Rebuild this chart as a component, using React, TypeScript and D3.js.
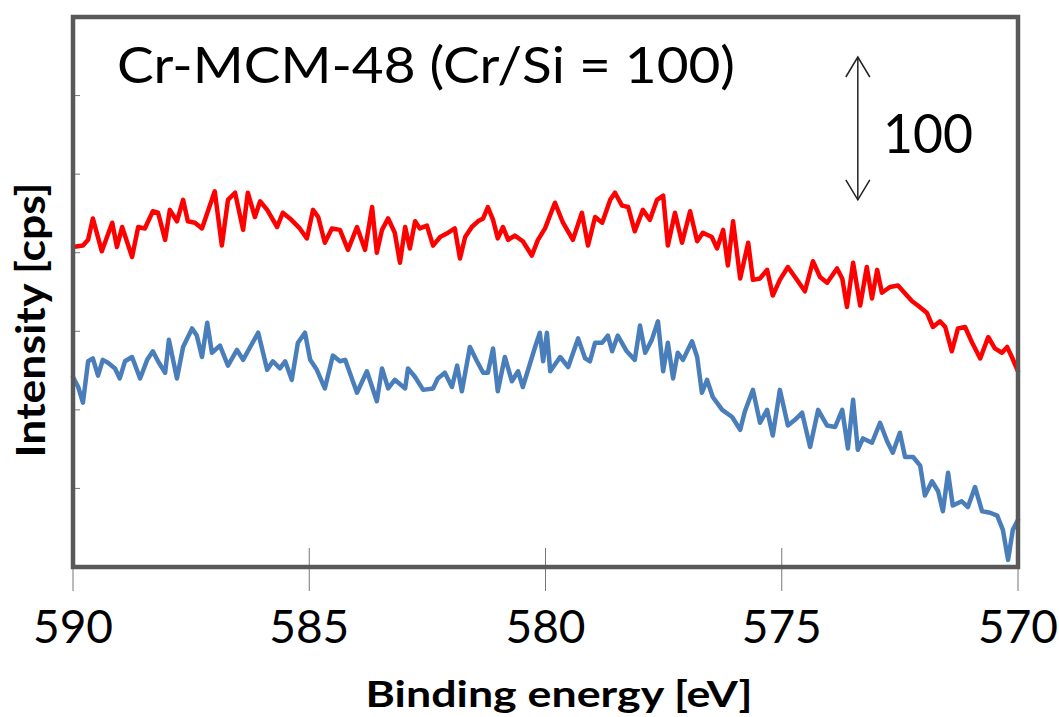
import React from "react";
import * as d3 from "d3";

// Binding energies [eV] and intensities [cps]
const redEnergy = [
  590.0, 589.79, 589.68, 589.58, 589.39, 589.17, 589.07, 588.96, 588.75, 588.62,
  588.48, 588.31, 588.2, 588.05, 587.95, 587.8, 587.67, 587.57, 587.42, 587.27,
  587.0, 586.85, 586.72, 586.57, 586.4, 586.3, 586.15, 586.04, 585.89, 585.68,
  585.56, 585.41, 585.2, 585.05,
  584.92, 584.81, 584.67, 584.52, 584.35, 584.18, 583.99, 583.82, 583.67, 583.57,
  583.46, 583.33, 583.19, 583.08, 582.97, 582.87, 582.76, 582.66, 582.51, 582.38,
  582.23, 582.06, 581.92, 581.81, 581.7, 581.56, 581.43, 581.32, 581.22, 581.11,
  581.01, 580.9, 580.79, 580.65, 580.48, 580.29, 580.16, 580.01,
  579.8, 579.63, 579.42, 579.23, 579.1, 578.95, 578.8, 578.63, 578.53, 578.38,
  578.25, 578.11, 577.94, 577.79, 577.64, 577.51, 577.41, 577.26, 577.11, 576.94,
  576.79, 576.67, 576.48, 576.37, 576.24, 576.14, 576.03, 575.88, 575.71, 575.61,
  575.46, 575.31, 575.19, 575.04,
  574.87, 574.72, 574.51, 574.34, 574.19, 574.04, 573.83, 573.72, 573.62, 573.49,
  573.34, 573.2, 573.09, 572.98, 572.88, 572.71, 572.54, 572.35, 572.24, 572.12,
  571.93, 571.8, 571.65, 571.54, 571.4, 571.27, 571.12, 570.97, 570.8, 570.63,
  570.49, 570.34, 570.23, 570.13, 570.0,
];
const redIntensity = [
  224, 225, 229, 244, 221, 241, 224, 238, 217, 238,
  237, 249, 248, 229, 250, 242, 257, 242, 241, 237,
  263, 225, 257, 262, 236, 262, 245, 256, 250, 238,
  248, 244, 237, 230,
  250, 245, 227, 237, 236, 222, 238, 222, 252, 220,
  236, 244, 234, 213, 238, 223, 242, 237, 239, 225,
  231, 234, 237, 216, 231, 238, 242, 244, 252, 243,
  230, 238, 229, 232, 228, 218, 229, 237,
  255, 241, 229, 248, 225, 245, 241, 257, 262, 253,
  252, 235, 250, 243, 257, 260, 225, 248, 227, 249,
  228, 234, 231, 223, 236, 211, 242, 202, 227, 201,
  202, 208, 190, 201,
  210, 203, 193, 214, 203, 199, 209, 202, 182, 213,
  183, 210, 188, 208, 192, 196, 197, 190, 186, 183,
  178, 168, 172, 168, 151, 167, 168, 157, 146, 161,
  153, 150, 154, 147, 137,
];

const blueEnergy = [
  590.0, 589.89, 589.79, 589.68, 589.58, 589.47, 589.37, 589.26, 589.11, 589.01,
  588.9, 588.75, 588.58, 588.43, 588.31, 588.2, 588.05, 587.97, 587.8, 587.67,
  587.48, 587.38, 587.27, 587.16, 587.06, 586.89, 586.72, 586.53, 586.4, 586.25,
  586.08, 585.89, 585.77, 585.62, 585.51, 585.37, 585.24, 585.09, 584.98, 584.84,
  584.67, 584.5, 584.35, 584.24, 583.99, 583.78, 583.57, 583.46, 583.33, 583.19,
  582.97, 582.91, 582.76, 582.59, 582.38, 582.28, 582.13, 581.98, 581.87, 581.77,
  581.6, 581.45, 581.32, 581.22, 581.11, 581.01, 580.86, 580.71, 580.58, 580.48,
  580.22, 580.12, 580.05, 579.97, 579.9, 579.69, 579.52, 579.31, 579.16, 579.06,
  578.95, 578.8, 578.68, 578.59, 578.47, 578.28, 578.11, 578.0, 577.89, 577.75,
  577.62, 577.51, 577.41, 577.3, 577.2, 577.09, 576.9, 576.79, 576.69, 576.58,
  576.46, 576.26, 576.05, 575.88, 575.78, 575.61, 575.46, 575.31, 575.19, 575.04,
  574.87, 574.72, 574.57, 574.4, 574.23, 574.04, 573.87, 573.72, 573.6, 573.49,
  573.39, 573.28, 573.09, 572.92, 572.77, 572.65, 572.5, 572.39, 572.22, 572.07,
  571.97, 571.82, 571.69, 571.59, 571.48, 571.38, 571.19, 571.06, 570.91, 570.76,
  570.59, 570.44, 570.32, 570.21, 570.11, 570.0,
];
const blueIntensity = [
  133, 126, 115, 144, 146, 134, 145, 143, 139, 132,
  144, 147, 132, 145, 151, 144, 136, 159, 132, 154,
  167, 162, 147, 171, 150, 155, 141, 152, 145, 154,
  164, 138, 144, 139, 144, 131, 157, 164, 145, 138,
  125, 148, 144, 145, 122, 137, 116, 139, 125, 131,
  125, 139, 133, 124, 125, 132, 136, 126, 141, 123,
  154, 144, 136, 136, 153, 123, 147, 130, 137, 126,
  154, 164, 144, 164, 137, 147, 140, 160, 146, 144,
  157, 157, 162, 151, 162, 151, 145, 169, 150, 159,
  172, 137, 157, 132, 150, 145, 158, 147, 122, 131,
  119, 110, 105, 96, 109, 124, 101, 110, 92, 124,
  99, 103, 108, 84, 110, 99, 98, 110, 83, 117,
  82, 90, 87, 101, 88, 80, 94, 77, 77, 71,
  50, 60, 53, 39, 66, 43, 46, 42, 56, 39,
  38, 36, 26, 5, 26, 33,
];

const xTicks = [590, 585, 580, 575, 570];
const yTicks = [0, 55, 110, 165, 220, 275, 330, 385];
const titleText = "Cr-MCM-48 (Cr/Si = 100)";
const xTitle = "Binding energy [eV]";
const yTitle = "Intensity [cps]";
const scaleBarValue = 100;
const scaleBarEnergy = 573.39;
const scaleBarFrom = 257;

const W = 1059;
const H = 717;
const left = 73;
const right = 1018;
const top = 17;
const bottom = 567;

export default function App() {
  const x = d3.scaleLinear().domain([590, 570]).range([left, right]);
  const y = d3.scaleLinear().domain([0, 385]).range([bottom, top]);

  const mk = (es: number[], vs: number[]) =>
    d3
      .line<[number, number]>()
      .x((d) => x(d[0]))
      .y((d) => y(d[1]))(es.map((e, i) => [e, vs[i]] as [number, number])) || "";

  const redPath = mk(redEnergy, redIntensity);
  const bluePath = mk(blueEnergy, blueIntensity);

  const ax = x(scaleBarEnergy);
  const ay1 = y(scaleBarFrom + scaleBarValue);
  const ay2 = y(scaleBarFrom);
  const hw = 12;
  const hl = 20;

  const font = "Lato, 'Open Sans', sans-serif";
  const frameColor = "#595959";

  return (
    <svg
      width={W}
      height={H}
      style={{ position: "absolute", left: 0, top: 0, background: "#fff" }}
      fontFamily={font}
    >
      <rect x={0} y={0} width={W} height={H} fill="#fff" />
      {yTicks.map((t) => (
        <line key={"yt" + t} x1={left} x2={left + 7} y1={y(t)} y2={y(t)} stroke="#777" strokeWidth={1} />
      ))}
      {xTicks.map((t) => (
        <line key={"xt" + t} x1={x(t)} x2={x(t)} y1={bottom - 19} y2={bottom + 24} stroke="#777" strokeWidth={1} />
      ))}
      <path d={bluePath} fill="none" stroke="#4A7EBB" strokeWidth={4.5} strokeLinejoin="round" strokeLinecap="round" />
      <path d={redPath} fill="none" stroke="#FF0000" strokeWidth={4.5} strokeLinejoin="round" strokeLinecap="round" />
      <rect x={left} y={top} width={right - left} height={bottom - top} fill="none" stroke={frameColor} strokeWidth={4.5} />
      {xTicks.map((t) => (
        <text key={"xl" + t} x={x(t)} y={643} textAnchor="middle" fontSize={46} fill="#000">
          {t}
        </text>
      ))}
      <text x={559} y={707} textAnchor="middle" fontSize={36} fontWeight="bold" textLength={387} lengthAdjust="spacingAndGlyphs">
        {xTitle}
      </text>
      <text
        transform="translate(45,320) rotate(-90)"
        textAnchor="middle"
        fontSize={40}
        fontWeight="bold"
        textLength={275}
        lengthAdjust="spacingAndGlyphs"
      >
        {yTitle}
      </text>
      <text x={117} y={83} fontSize={50} textLength={618} lengthAdjust="spacingAndGlyphs">
        {titleText}
      </text>
      <g stroke="#222" strokeWidth={1.5} fill="none">
        <line x1={ax} x2={ax} y1={ay1} y2={ay2} />
        <polyline points={`${ax - hw},${ay1 + hl} ${ax},${ay1} ${ax + hw},${ay1 + hl}`} />
        <polyline points={`${ax - hw},${ay2 - hl} ${ax},${ay2} ${ax + hw},${ay2 - hl}`} />
      </g>
      <text x={883} y={153} fontSize={54} textLength={90} lengthAdjust="spacingAndGlyphs">
        {String(scaleBarValue)}
      </text>
    </svg>
  );
}
